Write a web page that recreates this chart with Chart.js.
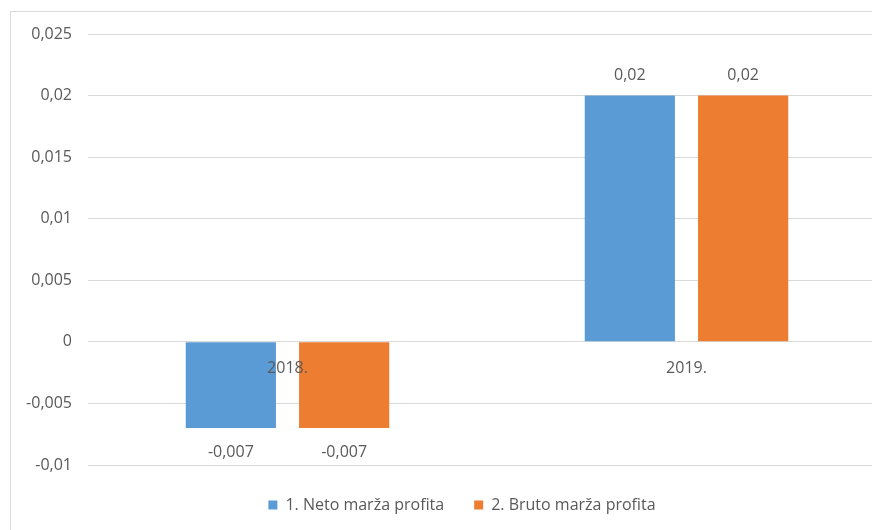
<!DOCTYPE html>
<html>
<head>
<meta charset="utf-8">
<script src="https://cdn.jsdelivr.net/npm/chart.js@4/dist/chart.umd.min.js"></script>
<style>
    html, body { margin: 0; padding: 0; background: #fff; overflow: hidden; }
    #wrap { position: relative; width: 872px; height: 530px; overflow: hidden; }
    #frame { position: absolute; left: 10px; top: 11px; width: 900px; height: 600px; border: 1px solid #d9d9d9; }
    #chart { position: absolute; left: 0; top: 0; }
</style>
</head>
<body>
<div id="wrap">
    <div id="frame"></div>
    <canvas id="chart" width="886" height="530"></canvas>
</div>
<script>
var categories = ['2018.', '2019.'];
var netoMarza = [-0.007, 0.02];
var brutoMarza = [-0.007, 0.02];
var seriesNames = ['1. Neto marža profita', '2. Bruto marža profita'];
var yTicks = { min: -0.01, max: 0.025, step: 0.005 };

var textColor = '#595959';
var fontFamily = '"Open Sans", "Liberation Sans", sans-serif';
var fontSize = 16;

function fmt(v) {
    return String(Number(v.toFixed(4))).replace('.', ',');
}

// data labels above/below bars, category names next to the zero line
var labelsPlugin = {
    id: 'excelLabels',
    afterLayout: function(chart) {
        // Excel centres the legend a bit further right
        if (chart.legend) {
            chart.legend.left += 38;
        }
    },
    afterDatasetsDraw: function(chart) {
        var ctx = chart.ctx;
        var yScale = chart.scales.y;
        var xScale = chart.scales.x;
        var zeroY = yScale.getPixelForValue(0);
        ctx.save();
        ctx.font = fontSize + 'px ' + fontFamily;
        ctx.fillStyle = textColor;
        ctx.textAlign = 'center';
        ctx.textBaseline = 'middle';
        chart.data.datasets.forEach(function(ds, i) {
            chart.getDatasetMeta(i).data.forEach(function(bar, j) {
                var v = ds.data[j];
                var y = v >= 0 ? bar.y - 20 : bar.y + 24;
                ctx.fillText(fmt(v), bar.x, y);
            });
        });
        categories.forEach(function(c, j) {
            ctx.fillText(c, xScale.getPixelForValue(j), zeroY + 27);
        });
        ctx.restore();
    }
};

new Chart(document.getElementById('chart').getContext('2d'), {
    type: 'bar',
    data: {
        labels: categories,
        datasets: [
            {
                label: seriesNames[0],
                data: netoMarza,
                backgroundColor: '#5b9bd5'
            },
            {
                label: seriesNames[1],
                data: brutoMarza,
                backgroundColor: '#ed7d31'
            }
        ]
    },
    options: {
        responsive: false,
        animation: false,
        layout: {
            padding: { top: 34, right: 0, bottom: 7, left: 0 }
        },
        datasets: {
            bar: {
                categoryPercentage: 0.568,
                barPercentage: 0.796
            }
        },
        scales: {
            x: {
                ticks: { display: false },
                grid: { display: false },
                border: { display: false },
                afterFit: function(axis) {
                    axis.height = 2;
                }
            },
            y: {
                min: yTicks.min,
                max: yTicks.max,
                ticks: {
                    stepSize: yTicks.step,
                    padding: 16,
                    color: textColor,
                    font: { family: fontFamily, size: fontSize },
                    callback: function(v) {
                        return fmt(v);
                    }
                },
                grid: {
                    color: '#d9d9d9',
                    drawTicks: false
                },
                border: { display: false },
                afterFit: function(axis) {
                    axis.width = 88;
                }
            }
        },
        plugins: {
            legend: {
                position: 'bottom',
                labels: {
                    boxWidth: 9,
                    boxHeight: 9,
                    padding: 30,
                    color: textColor,
                    font: { family: fontFamily, size: fontSize }
                }
            },
            tooltip: { enabled: false }
        }
    },
    plugins: [labelsPlugin]
});
</script>
</body>
</html>
